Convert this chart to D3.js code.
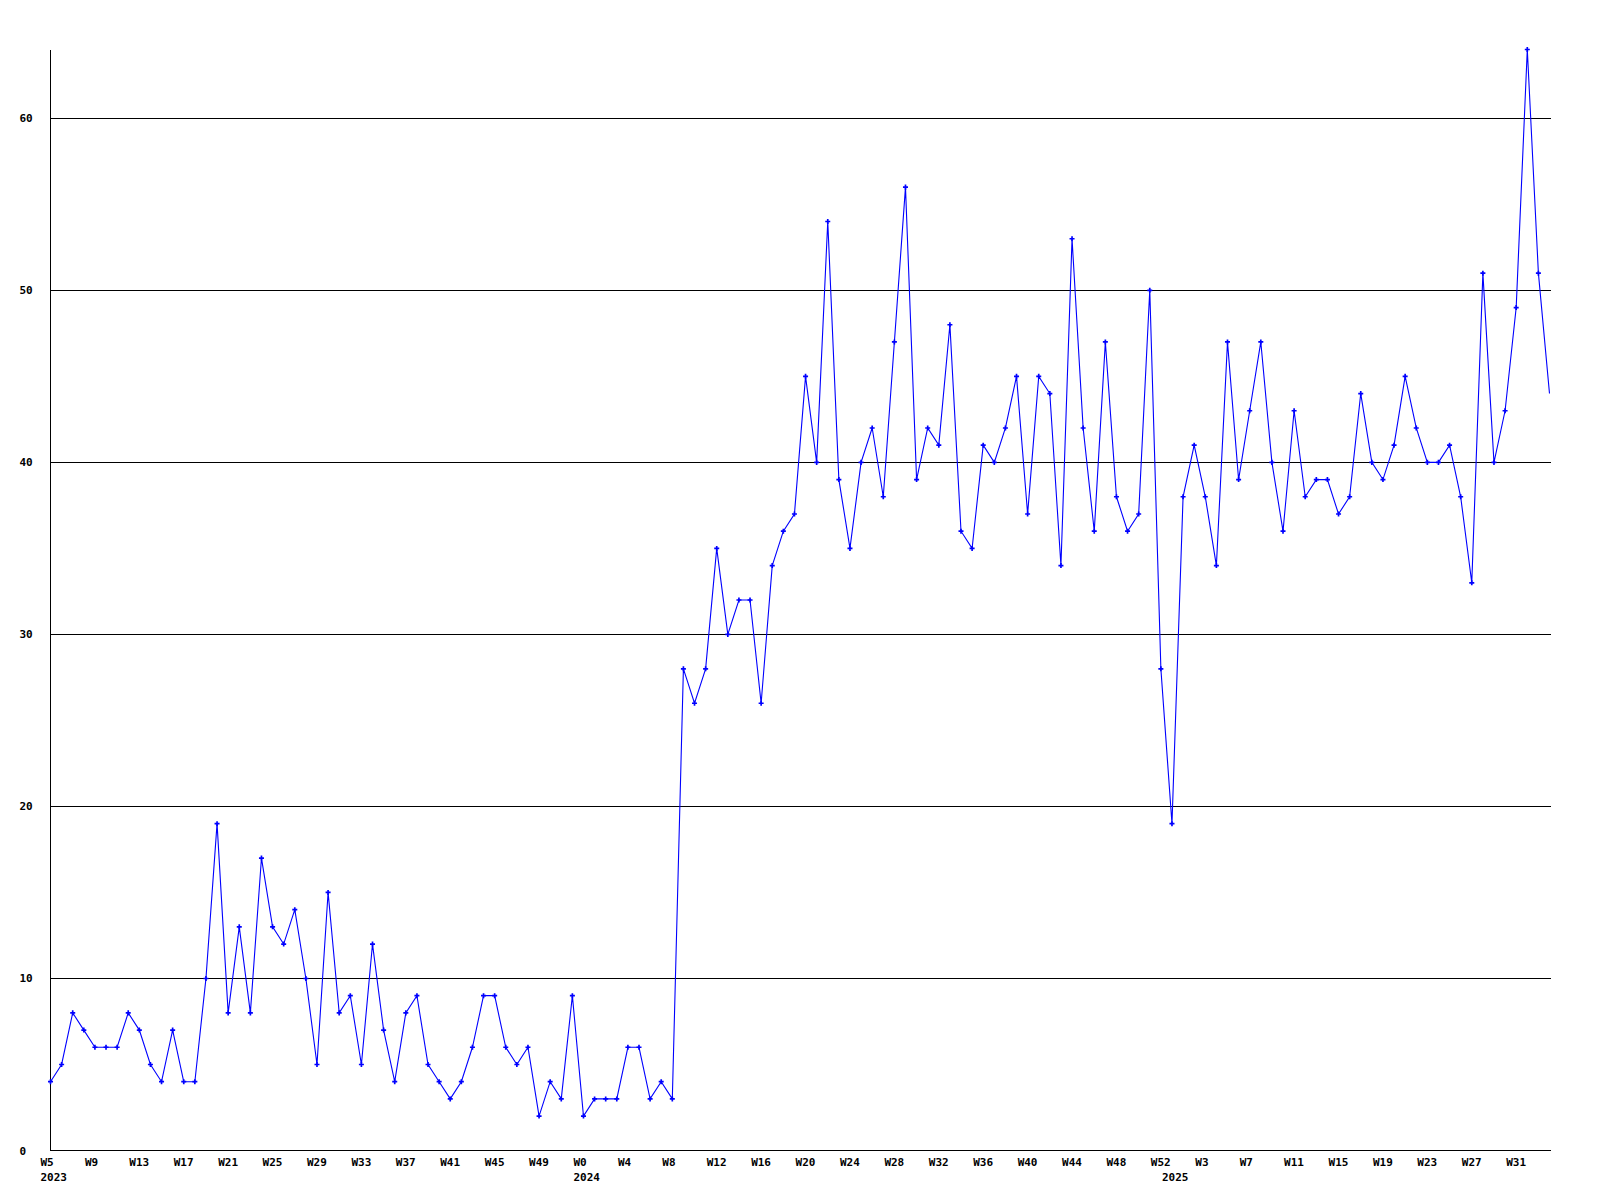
<!DOCTYPE html>
<html><head><meta charset="utf-8">
<script src="https://cdn.jsdelivr.net/npm/d3@7"></script>
<style>
body{margin:0;background:#fff}
svg{display:block}
text{font-family:"DejaVu Sans Mono",monospace;font-weight:bold;font-size:11px;fill:#000}
</style>
</head><body>
<svg id="chart" width="1600" height="1200"></svg>
<script>
// ---- data ----
const weeks2023 = [5,6,7,8,9,10,11,12,13,14,15,16,17,18,19,20,21,22,23,24,25,26,27,28,29,30,31,32,33,34,35,36,37,38,39,40,41,42,43,44,45,46,47,48,49,50,51,52];
const weeks2024 = [0,1,2,3,4,5,6,7,8,9,10,11,12,13,14,15,16,17,18,19,20,21,22,23,24,25,26,27,28,29,30,31,32,33,34,35,36,37,38,39,40,41,42,43,44,45,46,47,48,49,50,51,52];
const weeks2025 = [0,1,2,3,4,5,6,7,8,9,10,11,12,13,14,15,16,17,18,19,20,21,22,23,24,25,26,27,28,29,30,31,32,33,34];
const values2023 = [4,5,8,7,6,6,6,8,7,5,4,7,4,4,10,19,8,13,8,17,13,12,14,10,5,15,8,9,5,12,7,4,8,9,5,4,3,4,6,9,9,6,5,6,2,4,3,9];
const values2024 = [2,3,3,3,6,6,3,4,3,28,26,28,35,30,32,32,26,34,36,37,45,40,54,39,35,40,42,38,47,56,39,42,41,48,36,35,41,40,42,45,37,45,44,34,53,42,36,47,38,36,37,50,28];
const values2025 = [19,38,41,38,34,47,39,43,47,40,36,43,38,39,39,37,38,44,40,39,41,45,42,40,40,41,38,33,51,40,43,49,64,51,44];
const years = [2023, 2024, 2025];
const yTicks = [0,10,20,30,40,50,60];
const yMax = 64;

(function () {
// ---- build series ----
const weeksByYear = [weeks2023, weeks2024, weeks2025];
const valuesByYear = [values2023, values2024, values2025];
const data = [];
years.forEach((yr, yi) => {
  weeksByYear[yi].forEach((w, wi) => {
    data.push({key: yr + "-W" + w, year: yr, week: w, first: wi === 0, value: valuesByYear[yi][wi]});
  });
});

// ---- layout ----
const mLeft = 50.5, mRight = 1549.5, gridRight = 1551, mTop = 49.5, mBottom = 1150.5;
const svg = d3.select("#chart");
const x = d3.scalePoint().domain(data.map(d => d.key)).range([mLeft, mRight]);
const y = d3.scaleLinear().domain([0, yMax]).range([mBottom, mTop]);

svg.append("defs").append("clipPath").attr("id", "mclip")
  .append("rect").attr("x", 0).attr("y", 0).attr("width", 1547).attr("height", 1200);

// grid lines
svg.append("g").selectAll("line").data(yTicks.filter(t => t > 0)).join("line")
  .attr("x1", mLeft).attr("x2", gridRight)
  .attr("y1", d => Math.round(y(d)) + 0.5).attr("y2", d => Math.round(y(d)) + 0.5)
  .attr("stroke", "#000").attr("stroke-width", 1).attr("shape-rendering", "crispEdges");

// axes lines
svg.append("line").attr("x1", mLeft).attr("x2", mLeft).attr("y1", mTop).attr("y2", mBottom)
  .attr("stroke", "#000").attr("shape-rendering", "crispEdges");
svg.append("line").attr("x1", mLeft).attr("x2", gridRight).attr("y1", mBottom).attr("y2", mBottom)
  .attr("stroke", "#000").attr("shape-rendering", "crispEdges");

// y labels
svg.append("g").selectAll("text").data(yTicks).join("text")
  .attr("x", 19.5).attr("y", d => Math.round(y(d)) + 4)
  .text(d => d);

// x labels (every 4th point)
const xLabelData = data.filter((d, i) => i % 4 === 0);
svg.append("g").selectAll("text").data(xLabelData).join("text")
  .attr("x", d => x(d.key) - 10).attr("y", 1166)
  .text(d => "W" + d.week);

// year labels
svg.append("g").selectAll("text").data(data.filter(d => d.first)).join("text")
  .attr("x", d => x(d.key) - 10).attr("y", 1181)
  .text(d => d.year);

// line
const line = d3.line().x(d => x(d.key)).y(d => y(d.value));
svg.append("path").datum(data)
  .attr("d", line).attr("fill", "none").attr("stroke", "#0000ff").attr("stroke-width", 1.1);

// markers
const sym = d3.symbol().type(d3.symbolCross).size(14);
svg.append("g").attr("clip-path", "url(#mclip)").selectAll("path").data(data).join("path")
  .attr("transform", d => `translate(${x(d.key)},${y(d.value)})`)
  .attr("d", sym).attr("fill", "#0000ff");
})();
</script>
</body></html>
